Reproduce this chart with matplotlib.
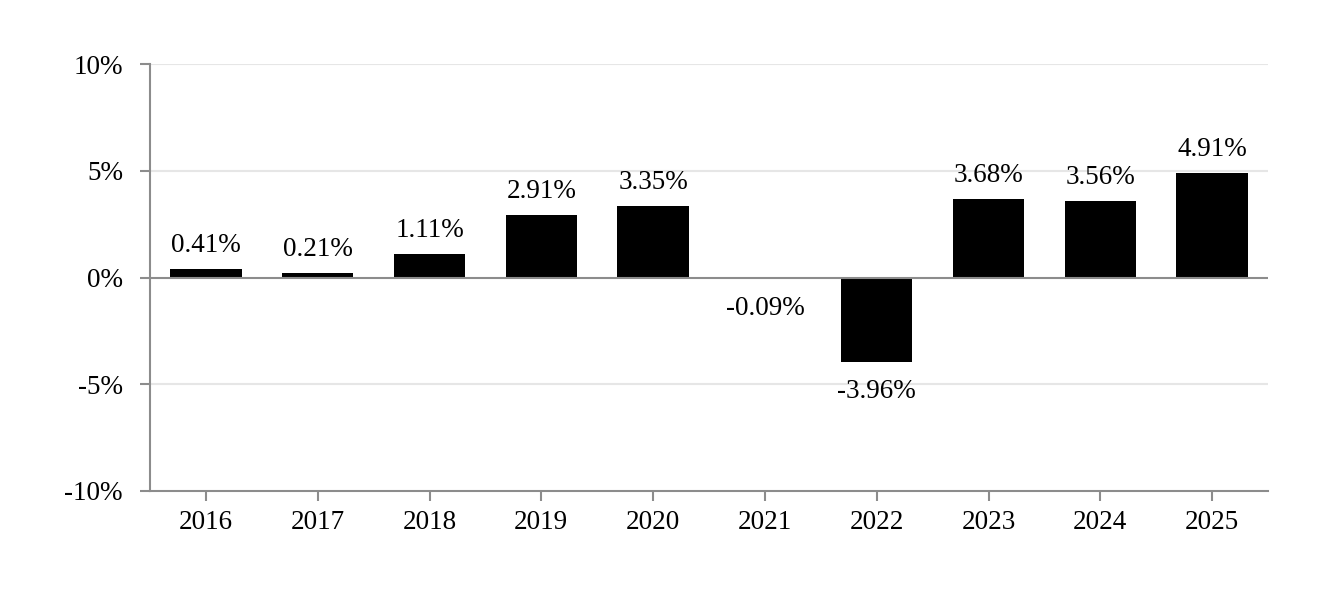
import matplotlib
matplotlib.use("Agg")
import matplotlib.pyplot as plt
from matplotlib.ticker import FuncFormatter

years = ["2016", "2017", "2018", "2019", "2020", "2021", "2022", "2023", "2024", "2025"]
returns = [0.41, 0.21, 1.11, 2.91, 3.35, -0.09, -3.96, 3.68, 3.56, 4.91]
yticks = [-10, -5, 0, 5, 10]

plt.rcParams['font.family'] = ['Liberation Serif', 'DejaVu Serif']
FS = 19.5
spine_c = '#8c8c8c'

fig = plt.figure(figsize=(13.32, 6.02), dpi=100)
ax = fig.add_axes([150/1332, 1 - 491/602, (1268-150)/1332, (491-64)/602])

x = list(range(len(years)))
ax.bar(x, returns, width=0.64, color='black', zorder=3)

ax.set_xlim(-0.5, len(years) - 0.5)
ax.set_ylim(-10, 10)
ax.set_yticks(yticks)
ax.yaxis.set_major_formatter(FuncFormatter(lambda v, p: f"{int(v)}%"))
ax.set_xticks(x)
ax.set_xticklabels(years)

for t in yticks:
    if t in (-10, 0):
        continue
    ax.axhline(t, color='#e6e6e6', lw=1.5, zorder=1)
ax.axhline(0, color=spine_c, lw=1.5, zorder=4)

for s in ['top', 'right']:
    ax.spines[s].set_visible(False)
for s in ['left', 'bottom']:
    ax.spines[s].set_color(spine_c)
    ax.spines[s].set_linewidth(1.5)

ax.tick_params(axis='both', colors=spine_c, labelcolor='black', labelsize=FS,
               length=7.5, width=1.5, direction='out')
ax.tick_params(axis='y', pad=12)
ax.tick_params(axis='x', pad=6.5)

for xi, v in zip(x, returns):
    if v >= 0:
        ax.annotate(f"{v:.2f}%", (xi, v), xytext=(0, 8), textcoords='offset points',
                    ha='center', va='bottom', fontsize=FS, zorder=5)
    else:
        ax.annotate(f"{v:.2f}%", (xi, v), xytext=(0, -12), textcoords='offset points',
                    ha='center', va='top', fontsize=FS, zorder=5)

fig.savefig("out.png", dpi=100)
